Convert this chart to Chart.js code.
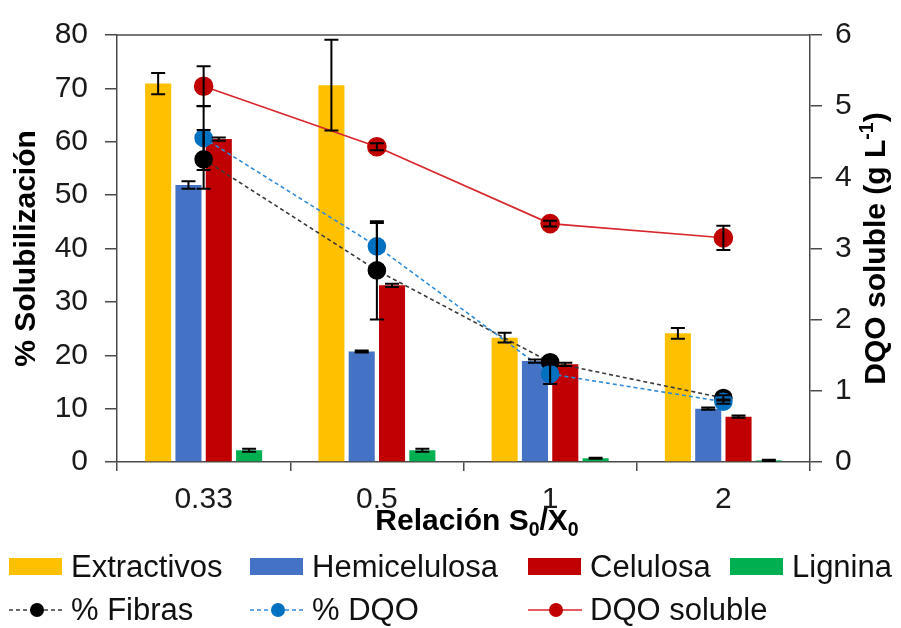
<!DOCTYPE html>
<html>
<head>
<meta charset="utf-8">
<script src="https://cdn.jsdelivr.net/npm/chart.js@4.4.0/dist/chart.umd.min.js"></script>
<style>
body { margin: 0; background: #fff; font-family: "Liberation Sans", Arial, sans-serif; }
#wrap { position: relative; width: 901px; height: 628px; }
.leg { position: absolute; display: flex; align-items: center; font-size: 31px; color: #111; white-space: nowrap; line-height: 1; }
.leg .caja { display: inline-block; width: 53px; height: 17px; margin-right: 9px; }
.leg svg { margin-right: 8px; }
</style>
</head>
<body>
<div id="wrap">
  <canvas id="grafico" width="901" height="628"></canvas>
  <div id="leyenda"></div>
</div>
<script>
const relacion = ['0.33', '0.5', '1', '2'];

const extractivos = [70.9, 70.6, 23.3, 24.1];
const extractivosErr = [2.0, 8.5, 0.9, 1.0];
const hemicelulosa = [51.9, 20.7, 18.9, 10.0];
const hemicelulosaErr = [0.7, 0.2, 0.3, 0.2];
const celulosa = [60.5, 33.1, 18.3, 8.5];
const celulosaErr = [0.3, 0.3, 0.3, 0.2];
const lignina = [2.2, 2.2, 0.7, 0.3];
const ligninaErr = [0.3, 0.3, 0.1, 0.1];

const fibras = [56.7, 35.9, 18.7, 12.0];
const fibrasErr = [5.5, 9.2, 0.5, 0.5];
const dqo = [60.7, 40.4, 16.5, 11.3];
const dqoErr = [6.0, 4.4, 1.9, 0.4];
const dqoSoluble = [5.28, 4.43, 3.35, 3.15];
const dqoSolubleErr = [0.28, 0.05, 0.04, 0.17];

const ticksIzq = [0, 10, 20, 30, 40, 50, 60, 70, 80];
const ticksDer = [0, 1, 2, 3, 4, 5, 6];

const colorTexto = '#1a1a1a';
const colorEje = '#4a4a4a';
const fuente = '"Liberation Sans", Arial, sans-serif';
Chart.defaults.font.family = fuente;

// texto con subindices / superindices dibujado por partes
function textoCompuesto(c, partes, x, y, size) {
  let ancho = 0;
  partes.forEach(p => {
    c.font = 'bold ' + (p[1] ? size * 0.65 : size) + 'px ' + fuente;
    ancho += c.measureText(p[0]).width;
  });
  let px = x - ancho / 2;
  partes.forEach(p => {
    const s = p[1] ? size * 0.65 : size;
    c.font = 'bold ' + s + 'px ' + fuente;
    let dy = 0;
    if (p[1] === 'sub') dy = size * 0.28;
    if (p[1] === 'sup') dy = -size * 0.32;
    c.fillText(p[0], px, y + dy);
    px += c.measureText(p[0]).width;
  });
}

const extras = {
  id: 'extras',
  afterDatasetsDraw(chart) {
    const c = chart.ctx;
    c.save();
    c.strokeStyle = '#000';
    c.lineWidth = 2;
    chart.data.datasets.forEach((ds, i) => {
      if (!ds.errores) return;
      const meta = chart.getDatasetMeta(i);
      const esc = chart.scales[ds.yAxisID || 'y'];
      meta.data.forEach((el, j) => {
        const v = ds.data[j], e = ds.errores[j];
        const y1 = esc.getPixelForValue(v + e);
        const y2 = esc.getPixelForValue(v - e);
        c.beginPath();
        c.moveTo(el.x, y1); c.lineTo(el.x, y2);
        c.moveTo(el.x - 7, y1); c.lineTo(el.x + 7, y1);
        c.moveTo(el.x - 7, y2); c.lineTo(el.x + 7, y2);
        c.stroke();
      });
    });
    c.restore();
  },
  afterDraw(chart) {
    const c = chart.ctx;
    const a = chart.chartArea;
    c.save();
    c.strokeStyle = colorEje;
    c.lineWidth = 1.5;
    c.beginPath();
    c.moveTo(a.left, a.top); c.lineTo(a.right, a.top);
    c.stroke();
    c.fillStyle = '#000';
    c.textBaseline = 'middle';
    c.textAlign = 'left';
    textoCompuesto(c, [['Relación S'], ['0', 'sub'], ['/X'], ['0', 'sub']], 477, 522, 30);
    c.translate(877, (a.top + a.bottom) / 2);
    c.rotate(-Math.PI / 2);
    textoCompuesto(c, [['DQO soluble (g L'], ['-1', 'sup'], [')']], 0, 0, 30);
    c.restore();
  }
};

const ctx = document.getElementById('grafico');
const grafico = new Chart(ctx, {
  type: 'bar',
  data: {
    labels: relacion,
    datasets: [
      { label: 'Extractivos', data: extractivos, errores: extractivosErr, backgroundColor: '#FFC000', yAxisID: 'y', order: 3 },
      { label: 'Hemicelulosa', data: hemicelulosa, errores: hemicelulosaErr, backgroundColor: '#4472C4', yAxisID: 'y', order: 3 },
      { label: 'Celulosa', data: celulosa, errores: celulosaErr, backgroundColor: '#C00000', yAxisID: 'y', order: 3 },
      { label: 'Lignina', data: lignina, errores: ligninaErr, backgroundColor: '#00B050', yAxisID: 'y', order: 3 },
      {
        type: 'line', label: '% Fibras', data: fibras, errores: fibrasErr, yAxisID: 'y',
        borderColor: '#3a3a3a', borderWidth: 1.6, borderDash: [4, 3],
        pointRadius: 8.5, pointBackgroundColor: '#000', pointBorderColor: '#000', order: 2
      },
      {
        type: 'line', label: '% DQO', data: dqo, errores: dqoErr, yAxisID: 'y',
        borderColor: '#2f8ad8', borderWidth: 1.6, borderDash: [4, 3],
        pointRadius: 8.5, pointBackgroundColor: '#0070C0', pointBorderColor: '#0070C0', order: 1
      },
      {
        type: 'line', label: 'DQO soluble', data: dqoSoluble, errores: dqoSolubleErr, yAxisID: 'y1',
        borderColor: '#d8262c', borderWidth: 1.6,
        pointRadius: 9, pointBackgroundColor: '#C00000', pointBorderColor: '#C00000', order: 0
      }
    ]
  },
  options: {
    responsive: false,
    animation: false,
    devicePixelRatio: 1,
    layout: { padding: { top: 30, bottom: 86, left: 0, right: 0 } },
    datasets: { bar: { barPercentage: 0.86, categoryPercentage: 0.70 } },
    plugins: { legend: { display: false }, tooltip: { enabled: false } },
    scales: {
      x: {
        grid: { drawOnChartArea: false, tickLength: 9, color: colorEje, lineWidth: 1.5 },
        border: { color: colorEje, width: 1.5 },
        ticks: { font: { size: 30 }, color: colorTexto, padding: 11 },
        afterFit(s) { s.height = 80; }
      },
      y: {
        position: 'left', min: 0, max: 80,
        afterBuildTicks(s) { s.ticks = ticksIzq.map(v => ({ value: v })); },
        ticks: { font: { size: 30 }, color: colorTexto, padding: 17 },
        grid: { drawOnChartArea: false, tickLength: 12, color: colorEje, lineWidth: 1.5 },
        border: { color: colorEje, width: 1.5 },
        title: { display: true, text: '% Solubilización', font: { size: 30, weight: 'bold' }, color: '#000', padding: { top: 9, bottom: 0 } },
        afterFit(s) { s.width = 117; }
      },
      y1: {
        position: 'right', min: 0, max: 6,
        afterBuildTicks(s) { s.ticks = ticksDer.map(v => ({ value: v })); },
        ticks: { font: { size: 30 }, color: colorTexto, padding: 13 },
        grid: { drawOnChartArea: false, tickLength: 12, color: colorEje, lineWidth: 1.5 },
        border: { color: colorEje, width: 1.5 },
        afterFit(s) { s.width = 91; }
      }
    }
  },
  plugins: [extras]
});

// leyenda en dos filas como en el original
const legX = [9, 250, 528, 730];
const leyenda = document.getElementById('leyenda');
const barras = grafico.data.datasets.filter(d => d.type !== 'line');
const lineas = grafico.data.datasets.filter(d => d.type === 'line');
barras.forEach((d, i) => {
  const item = document.createElement('div');
  item.className = 'leg';
  item.style.left = legX[i] + 'px';
  item.style.top = '551px';
  item.innerHTML = '<span class="caja" style="background:' + d.backgroundColor + '"></span>' + d.label;
  leyenda.appendChild(item);
});
lineas.forEach((d, i) => {
  const item = document.createElement('div');
  item.className = 'leg';
  item.style.left = legX[i] + 'px';
  item.style.top = '594px';
  const dash = d.borderDash ? ' stroke-dasharray="4 3"' : '';
  item.innerHTML = '<svg width="54" height="20"><line x1="0" y1="10" x2="54" y2="10" stroke="' + d.borderColor +
    '" stroke-width="1.6"' + dash + '/><circle cx="28" cy="10" r="7" fill="' + d.pointBackgroundColor + '"/></svg>' + d.label;
  leyenda.appendChild(item);
});
</script>
</body>
</html>
